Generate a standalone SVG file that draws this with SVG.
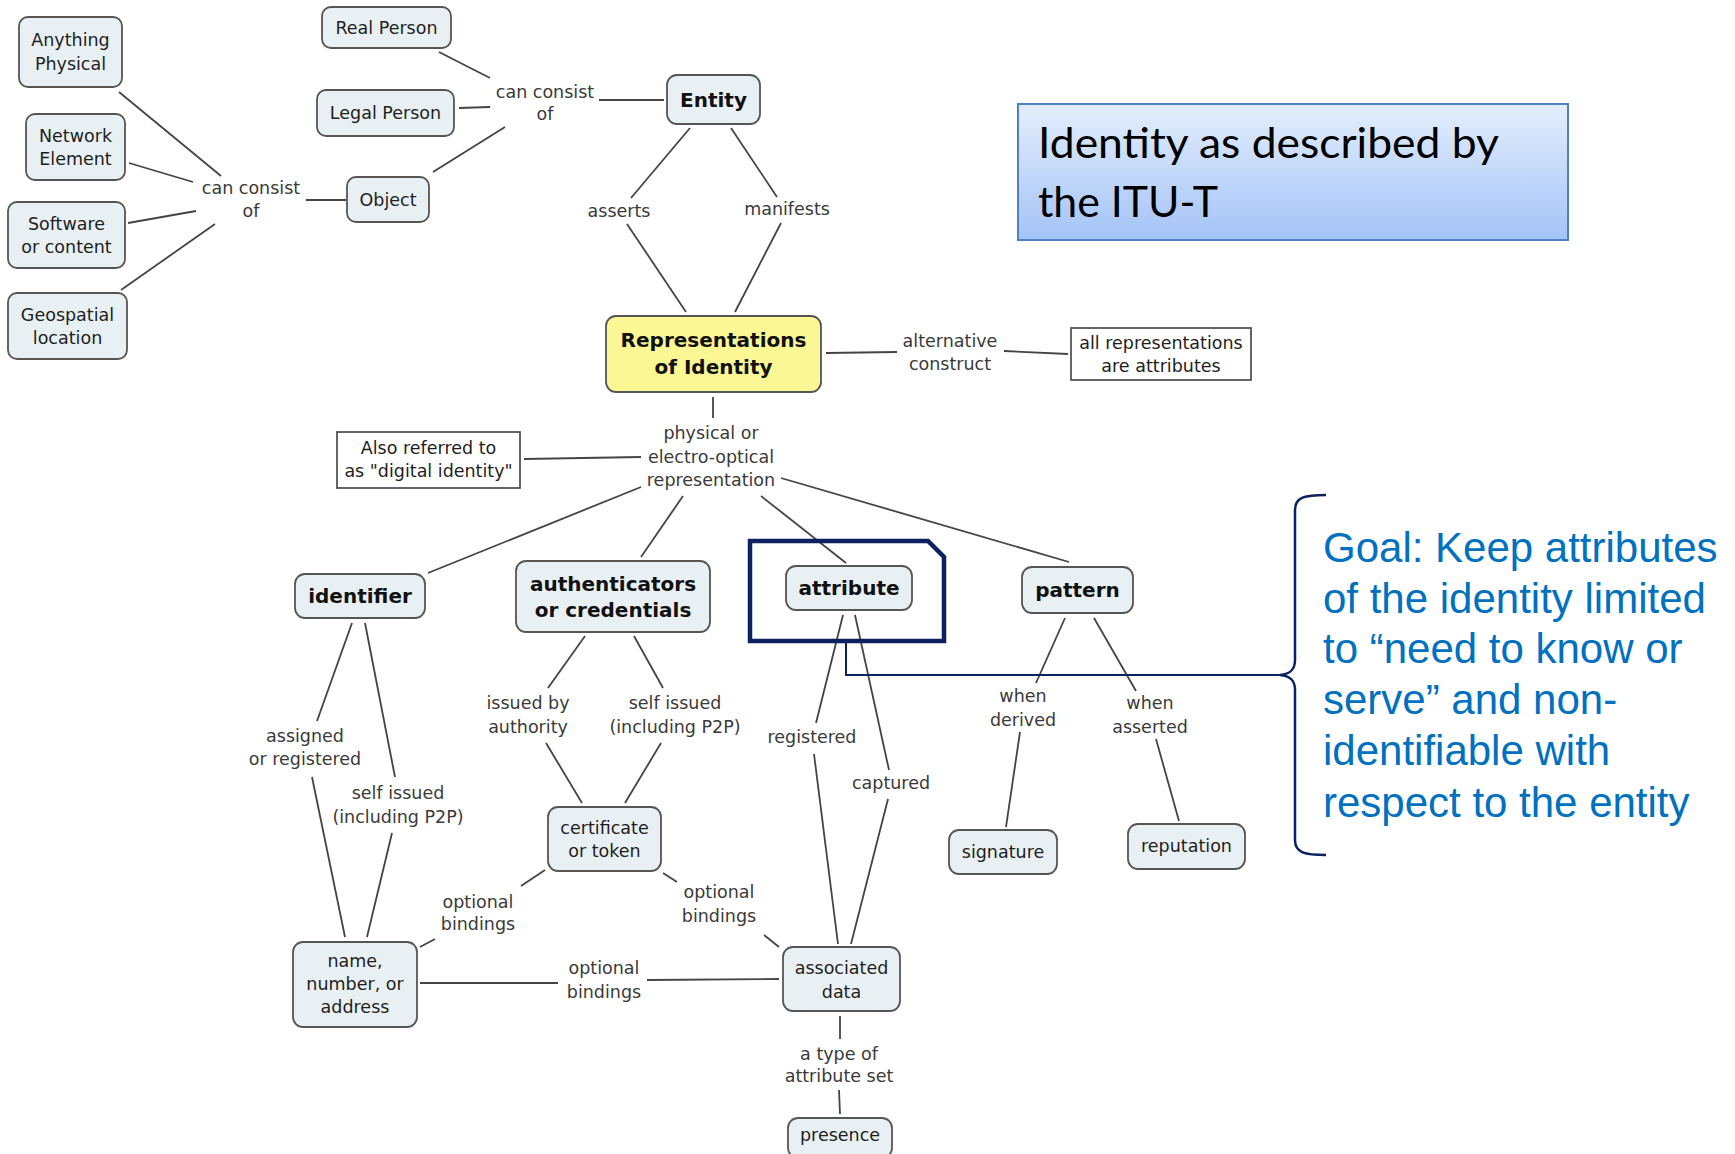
<svg xmlns="http://www.w3.org/2000/svg" width="1735" height="1154" viewBox="0 0 1735 1154">
<defs>
<linearGradient id="tg" x1="0" y1="0" x2="0" y2="1">
<stop offset="0" stop-color="#e4eefc"/>
<stop offset="1" stop-color="#a4c3f7"/>
</linearGradient>
</defs>
<style>
.n{fill:#e8f0f3;stroke:#555;stroke-width:1.8}
.sq{fill:#fff;stroke:#555;stroke-width:1.8}
.y{fill:#fbf795;stroke:#555;stroke-width:1.8}
.t{font-family:"DejaVu Sans",Verdana,sans-serif;font-size:17.5px;fill:#1e1e1e;text-anchor:middle}
.b{font-family:"DejaVu Sans",Verdana,sans-serif;font-size:20px;font-weight:bold;fill:#111;text-anchor:middle}
.l{font-family:"DejaVu Sans",Verdana,sans-serif;font-size:17.5px;fill:#3a3a3a;text-anchor:middle}
.c line{stroke:#444;stroke-width:1.8}
.goal{font-family:"Liberation Sans",Arial,sans-serif;font-size:42px;fill:#0070c0}
.title{font-family:Lato,"Open Sans",sans-serif;font-size:43px;fill:#000}
</style>
<rect width="1735" height="1154" fill="#fff"/>
<g class="c" id="connectors">
<line x1="119" y1="92" x2="221" y2="176"/>
<line x1="129" y1="163" x2="193" y2="182"/>
<line x1="128" y1="223" x2="196" y2="211"/>
<line x1="121" y1="290" x2="215" y2="224"/>
<line x1="306" y1="200" x2="346" y2="200"/>
<line x1="439" y1="52" x2="490" y2="78"/>
<line x1="459" y1="108" x2="490" y2="107"/>
<line x1="433" y1="172" x2="505" y2="127"/>
<line x1="599" y1="100" x2="664" y2="100"/>
<line x1="690" y1="128" x2="631" y2="198"/>
<line x1="627" y1="224" x2="686" y2="312"/>
<line x1="731" y1="128" x2="777" y2="197"/>
<line x1="781" y1="223" x2="735" y2="312"/>
<line x1="826" y1="353" x2="897" y2="352"/>
<line x1="1004" y1="351" x2="1068" y2="354"/>
<line x1="713" y1="397" x2="713" y2="418"/>
<line x1="524" y1="459" x2="641" y2="457"/>
<line x1="641" y1="487" x2="428" y2="573"/>
<line x1="683" y1="496" x2="641" y2="557"/>
<line x1="761" y1="496" x2="846" y2="563"/>
<line x1="781" y1="478" x2="1069" y2="562"/>
<line x1="352" y1="623" x2="317" y2="721"/>
<line x1="312" y1="777" x2="345" y2="937"/>
<line x1="365" y1="623" x2="395" y2="777"/>
<line x1="392" y1="833" x2="367" y2="937"/>
<line x1="585" y1="636" x2="548" y2="688"/>
<line x1="546" y1="743" x2="582" y2="803"/>
<line x1="634" y1="636" x2="663" y2="688"/>
<line x1="661" y1="743" x2="625" y2="803"/>
<line x1="545" y1="870" x2="521" y2="886"/>
<line x1="435" y1="939" x2="420" y2="947"/>
<line x1="663" y1="873" x2="677" y2="882"/>
<line x1="764" y1="935" x2="779" y2="947"/>
<line x1="420" y1="983" x2="558" y2="983"/>
<line x1="647" y1="980" x2="779" y2="979"/>
<line x1="843" y1="615" x2="816" y2="723"/>
<line x1="814" y1="754" x2="838" y2="944"/>
<line x1="855" y1="615" x2="889" y2="770"/>
<line x1="888" y1="799" x2="851" y2="944"/>
<line x1="1065" y1="618" x2="1036" y2="683"/>
<line x1="1020" y1="732" x2="1006" y2="827"/>
<line x1="1094" y1="618" x2="1136" y2="691"/>
<line x1="1156" y1="739" x2="1179" y2="821"/>
<line x1="840" y1="1016" x2="840" y2="1039"/>
<line x1="839" y1="1090" x2="840" y2="1114"/>
</g>
<g id="labels">
<text class="l" x="251" y="194">can consist</text><text class="l" x="251" y="217">of</text>
<text class="l" x="545" y="98">can consist</text><text class="l" x="545" y="120">of</text>
<text class="l" x="619" y="217">asserts</text>
<text class="l" x="787" y="215">manifests</text>
<text class="l" x="950" y="347">alternative</text><text class="l" x="950" y="370">construct</text>
<text class="l" x="711" y="439">physical or</text><text class="l" x="711" y="463">electro-optical</text><text class="l" x="711" y="486">representation</text>
<text class="l" x="305" y="742">assigned</text><text class="l" x="305" y="765">or registered</text>
<text class="l" x="398" y="799">self issued</text><text class="l" x="398" y="823">(including P2P)</text>
<text class="l" x="528" y="709">issued by</text><text class="l" x="528" y="733">authority</text>
<text class="l" x="675" y="709">self issued</text><text class="l" x="675" y="733">(including P2P)</text>
<text class="l" x="812" y="743">registered</text>
<text class="l" x="891" y="789">captured</text>
<text class="l" x="1023" y="702">when</text><text class="l" x="1023" y="726">derived</text>
<text class="l" x="1150" y="709">when</text><text class="l" x="1150" y="733">asserted</text>
<text class="l" x="478" y="908">optional</text><text class="l" x="478" y="930">bindings</text>
<text class="l" x="719" y="898">optional</text><text class="l" x="719" y="922">bindings</text>
<text class="l" x="604" y="974">optional</text><text class="l" x="604" y="998">bindings</text>
<text class="l" x="839" y="1060">a type of</text><text class="l" x="839" y="1082">attribute set</text>
</g>
<g id="n-anything"><rect class="n" x="19" y="17" width="103" height="70" rx="9"/><text class="t" x="70.5" y="46">Anything</text><text class="t" x="70.5" y="70">Physical</text></g>
<g id="n-network"><rect class="n" x="26" y="114" width="99" height="66" rx="9"/><text class="t" x="75.5" y="142">Network</text><text class="t" x="75.5" y="165">Element</text></g>
<g id="n-software"><rect class="n" x="8" y="202" width="117" height="66" rx="9"/><text class="t" x="66.5" y="230">Software</text><text class="t" x="66.5" y="253">or content</text></g>
<g id="n-geo"><rect class="n" x="8" y="293" width="119" height="66" rx="9"/><text class="t" x="67.5" y="321">Geospatial</text><text class="t" x="67.5" y="344">location</text></g>
<g id="n-real"><rect class="n" x="322" y="7" width="129" height="41" rx="9"/><text class="t" x="386.5" y="33.5">Real Person</text></g>
<g id="n-legal"><rect class="n" x="317" y="90" width="137" height="46" rx="9"/><text class="t" x="385.5" y="119">Legal Person</text></g>
<g id="n-object"><rect class="n" x="347" y="177" width="82" height="45" rx="9"/><text class="t" x="388" y="205.5">Object</text></g>
<g id="n-entity"><rect class="n" x="667" y="75" width="93" height="49" rx="10"/><text class="b" x="713.5" y="106.5">Entity</text></g>
<g id="n-rep"><rect class="y" x="606" y="316" width="215" height="76" rx="10"/><text class="b" x="713.5" y="347">Representations</text><text class="b" x="713.5" y="374">of Identity</text></g>
<g id="n-allrep"><rect class="sq" x="1071" y="328" width="180" height="52"/><text class="t" x="1161" y="349">all representations</text><text class="t" x="1161" y="372">are attributes</text></g>
<g id="n-also"><rect class="sq" x="337" y="432" width="183" height="56"/><text class="t" x="428.5" y="454">Also referred to</text><text class="t" x="428.5" y="477">as "digital identity"</text></g>
<g id="n-identifier"><rect class="n" x="295" y="574" width="130" height="44" rx="10"/><text class="b" x="360" y="603">identifier</text></g>
<g id="n-auth"><rect class="n" x="516" y="561" width="194" height="71" rx="10"/><text class="b" x="613" y="591">authenticators</text><text class="b" x="613" y="617">or credentials</text></g>
<g id="n-attribute"><rect class="n" x="786" y="566" width="126" height="44" rx="10"/><text class="b" x="849" y="595">attribute</text></g>
<g id="n-pattern"><rect class="n" x="1022" y="567" width="111" height="46" rx="10"/><text class="b" x="1077.5" y="597">pattern</text></g>
<g id="n-name"><rect class="n" x="293" y="942" width="124" height="85" rx="10"/><text class="t" x="355" y="967">name,</text><text class="t" x="355" y="990">number, or</text><text class="t" x="355" y="1013">address</text></g>
<g id="n-cert"><rect class="n" x="548" y="807" width="113" height="64" rx="10"/><text class="t" x="604.5" y="834">certificate</text><text class="t" x="604.5" y="857">or token</text></g>
<g id="n-assoc"><rect class="n" x="783" y="947" width="117" height="64" rx="10"/><text class="t" x="841.5" y="974">associated</text><text class="t" x="841.5" y="998">data</text></g>
<g id="n-signature"><rect class="n" x="949" y="830" width="108" height="44" rx="10"/><text class="t" x="1003" y="858">signature</text></g>
<g id="n-reputation"><rect class="n" x="1128" y="824" width="117" height="45" rx="10"/><text class="t" x="1186.5" y="852">reputation</text></g>
<g id="n-presence"><rect class="n" x="788" y="1118" width="104" height="40" rx="10"/><text class="t" x="840" y="1141">presence</text></g>
<g id="highlight">
<path d="M750,541 H928 L944,557 V641 H750 Z" fill="none" stroke="#0c2160" stroke-width="4.5"/>
<path d="M846,641 V675 H1285" fill="none" stroke="#0c2160" stroke-width="2"/>
<path d="M1326,495 C1305,495 1295,497 1295,510 L1295,660 C1295,670 1290,674 1280,675 C1290,676 1295,680 1295,690 L1295,840 C1295,853 1305,855 1326,855" fill="none" stroke="#0c2160" stroke-width="2.5"/>
</g>
<g id="title">
<rect x="1018" y="104" width="550" height="136" fill="url(#tg)" stroke="#5080c0" stroke-width="2"/>
<text class="title" x="1038" y="158" textLength="461" lengthAdjust="spacingAndGlyphs">Identity as described by</text>
<text class="title" x="1038" y="217" textLength="180" lengthAdjust="spacingAndGlyphs">the ITU-T</text>
</g>
<g id="goal">
<text class="goal" x="1323" y="562">Goal: Keep attributes</text>
<text class="goal" x="1323" y="613">of the identity limited</text>
<text class="goal" x="1323" y="663">to “need to know or</text>
<text class="goal" x="1323" y="714">serve” and non-</text>
<text class="goal" x="1323" y="765">identifiable with</text>
<text class="goal" x="1323" y="817">respect to the entity</text>
</g>
</svg>
